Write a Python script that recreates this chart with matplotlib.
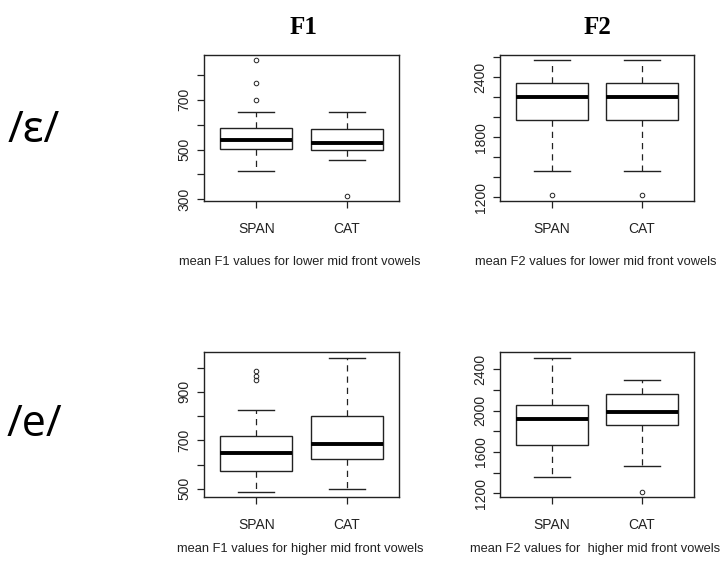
import matplotlib
matplotlib.use("Agg")
import matplotlib.pyplot as plt

plt.rcParams["font.family"] = ["Liberation Sans", "DejaVu Sans"]

# groups on the x axis
groups = ["SPAN", "CAT"]

# box stats: whislo, q1, med, q3, whishi, fliers
# /ɛ/ F1
eps_f1_span = [413, 504, 539, 585, 649]
eps_f1_span_out = [701, 767, 858]
eps_f1_cat = [459, 500, 528, 581, 649]
eps_f1_cat_out = [315]
# /ɛ/ F2
eps_f2_span = [1461, 1971, 2205, 2340, 2567]
eps_f2_span_out = [1217]
eps_f2_cat = [1461, 1971, 2205, 2340, 2567]
eps_f2_cat_out = [1217]
# /e/ F1
e_f1_span = [487, 572, 649, 716, 824]
e_f1_span_out = [947, 967, 987]
e_f1_cat = [501, 623, 683, 800, 1041]
e_f1_cat_out = []
# /e/ F2
e_f2_span = [1356, 1665, 1923, 2058, 2508]
e_f2_span_out = []
e_f2_cat = [1465, 1865, 1984, 2157, 2299]
e_f2_cat_out = [1214]

W, H = 723, 562
fig = plt.figure(figsize=(W / 100, H / 100), dpi=100)
fig.patch.set_facecolor("white")


def px_axes(left, top, right, bottom):
    return fig.add_axes([left / W, 1 - bottom / H, (right - left) / W, (bottom - top) / H])


def stats(vals, out, label):
    lo, q1, med, q3, hi = vals
    return dict(whislo=lo, q1=q1, med=med, q3=q3, whishi=hi, fliers=out, label=label)


def panel(ax, a, a_out, b, b_out, ylim, ticks, shown):
    bs = [stats(a, a_out, groups[0]), stats(b, b_out, groups[1])]
    ax.bxp(bs, positions=[1, 2], widths=0.8, patch_artist=True,
           boxprops=dict(facecolor="white", edgecolor="#222222", linewidth=1.0),
           whiskerprops=dict(color="#222222", linewidth=0.9, linestyle=(0, (5, 4))),
           capprops=dict(color="#222222", linewidth=1.0),
           medianprops=dict(color="black", linewidth=2.8),
           flierprops=dict(marker="o", markersize=3.3, markerfacecolor="none",
                           markeredgecolor="#222222", markeredgewidth=0.7))
    ax.set_xlim(0.42, 2.58)
    ax.set_ylim(*ylim)
    ax.set_yticks(ticks)
    ax.set_yticklabels([str(t) if t in shown else "" for t in ticks],
                       rotation=90, va="center")
    ax.set_xticks([1, 2])
    ax.set_xticklabels(groups)
    ax.tick_params(axis="y", length=5, width=0.9, pad=4, labelsize=10, colors="#222222")
    ax.tick_params(axis="x", length=5, width=0.9, pad=10, labelsize=10, colors="#222222")
    for s in ax.spines.values():
        s.set_linewidth(1.0)
        s.set_color("#222222")


ax1 = px_axes(204, 55, 399, 201)
panel(ax1, eps_f1_span, eps_f1_span_out, eps_f1_cat, eps_f1_cat_out,
      (293, 880), [300, 400, 500, 600, 700, 800], [300, 500, 700])
ax2 = px_axes(500, 55, 694, 201)
panel(ax2, eps_f2_span, eps_f2_span_out, eps_f2_cat, eps_f2_cat_out,
      (1160, 2622), [1200, 1400, 1600, 1800, 2000, 2200, 2400, 2600], [1200, 1800, 2400])
ax3 = px_axes(204, 352, 399, 497)
panel(ax3, e_f1_span, e_f1_span_out, e_f1_cat, e_f1_cat_out,
      (466, 1064), [500, 600, 700, 800, 900, 1000], [500, 700, 900])
ax4 = px_axes(500, 352, 694, 497)
panel(ax4, e_f2_span, e_f2_span_out, e_f2_cat, e_f2_cat_out,
      (1166, 2566), [1200, 1400, 1600, 1800, 2000, 2200, 2400], [1200, 1600, 2000, 2400])

# column titles
fig.text(303 / W, 1 - 27 / H, "F1", ha="center", va="center",
         family="Liberation Serif", weight="bold", fontsize=18)
fig.text(597 / W, 1 - 27 / H, "F2", ha="center", va="center",
         family="Liberation Serif", weight="bold", fontsize=18)

# row labels
row_font = ["Open Sans", "Noto Sans", "DejaVu Sans"]
fig.text(34 / W, 1 - 131 / H, "/ɛ/", ha="center", va="center",
         family=row_font, fontsize=31)
fig.text(34 / W, 1 - 425 / H, "/e/", ha="center", va="center",
         family=row_font, fontsize=31)

# captions under each plot
cap = dict(ha="center", va="center", fontsize=9.3, color="#222222")
fig.text(300 / W, 1 - 262 / H, "mean F1 values for lower mid front vowels", **cap)
fig.text(596 / W, 1 - 262 / H, "mean F2 values for lower mid front vowels", **cap)
fig.text(300 / W, 1 - 549 / H, "mean F1 values for higher mid front vowels", **cap)
fig.text(595 / W, 1 - 549 / H, "mean F2 values for  higher mid front vowels", **cap)

fig.savefig("out.png", dpi=100)
